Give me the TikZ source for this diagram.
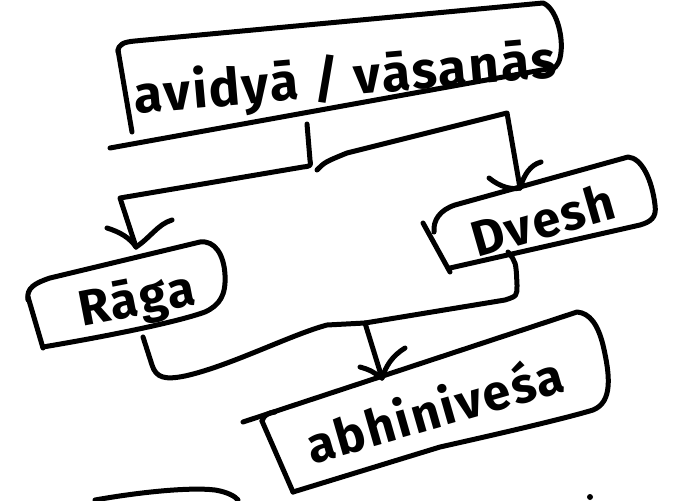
\documentclass[tikz,border=0pt]{standalone}
\usepackage{fontspec}
\setmainfont{Fira Sans}
\tikzset{
  ink/.style={line width=5pt, line cap=round, line join=round},
  barb/.style={line width=5pt, line cap=round},
  label/.style={inner sep=0pt, font=\bfseries\fontsize{#1}{#1}\selectfont\addfontfeature{LetterSpace=4}},
}
\begin{document}
\begin{tikzpicture}[x=1pt, y=-1pt]
    \useasboundingbox (0,0) rectangle (684,500);
    \node[label=52, rotate=5] (avidya) at (345,80) {avidyā / vāsanās};
    \node[label=50, rotate=11] (raga) at (137,302) {Rāga};
    \node[label=50, rotate=16] (dvesh) at (543,220) {Dvesh};
    \node[label=50, rotate=16] (abhi) at (434,408) {abhiniveśa};
    \draw[ink] (118,52) .. controls (118,44) and (124,42) .. (135,41) -- (543,3) .. controls (556,8) and (563,35) .. (561,52) .. controls (560,62) and (557,66) .. (553,69);
    \draw[ink] (118,50) -- (132,132);
    \draw[ink] (110,148) -- (553,68);
    \draw[ink] (28,300) .. controls (26,288) and (35,283) .. (50,278) -- (200,242) .. controls (215,240) and (224,255) .. (225,275) .. controls (226,295) and (220,305) .. (205,312) .. controls (180,321) and (120,334) .. (43,347);
    \draw[ink] (28,297) -- (43,348);
    \draw[ink] (434,232) .. controls (433,220) and (440,210) .. (455,205) -- (628,157) .. controls (642,158) and (652,180) .. (655,205) .. controls (657,218) and (650,222) .. (640,225) -- (450,268);
    \draw[ink] (423,223) -- (450,272);
    \draw[ink] (262,421) .. controls (264,415) and (268,413) .. (275,412);
    \draw[ink] (243,422) -- (577,312) .. controls (590,313) and (598,325) .. (603,345) .. controls (610,375) and (613,402) .. (593,410) .. controls (560,420) and (480,438) .. (440,447) -- (293,492);
    \draw[ink] (262,421) -- (293,492);
    \coordinate (topjoin) at (307,124);
    \coordinate (ragatip) at (136,247);
    \coordinate (dveshtip) at (520,188);
    \coordinate (dveshbot) at (508,252);
    \coordinate (ragabot) at (143,337);
    \coordinate (midjoin) at (365,323);
    \coordinate (abhitip) at (382,378);
    \draw[ink] (topjoin) -- (310,160) .. controls (311,166) .. (303,167) -- (120,198) -- (ragatip);
    \draw[ink] (317,170) .. controls (325,162) .. (347,153) -- (507,113) -- (dveshtip);
    \draw[barb] (107,228) .. controls (120,232) and (130,238) .. (ragatip);
    \draw[barb] (172,220) .. controls (158,224) and (150,238) .. (ragatip);
    \draw[barb] (489,178) .. controls (500,187) and (512,190) .. (dveshtip);
    \draw[barb] (541,162) .. controls (530,165) and (524,175) .. (dveshtip);
    \draw[ink] (dveshbot) .. controls (516,262) .. (517,285) .. controls (517,296) .. (505,300) -- (midjoin);
    \draw[ink] (ragabot) -- (152,365) .. controls (156,378) and (165,380) .. (185,376) .. controls (230,366) and (290,335) .. (327,325) -- (midjoin);
    \draw[ink] (midjoin) -- (abhitip);
    \draw[barb] (360,367) .. controls (370,370) .. (abhitip);
    \draw[barb] (405,348) .. controls (392,356) and (386,366) .. (abhitip);
    \draw[ink] (95,500) .. controls (140,492) and (190,487) .. (215,490) .. controls (228,492) and (236,497) .. (238,500);
    \fill (590,497) circle (3);
\end{tikzpicture}
\end{document}
